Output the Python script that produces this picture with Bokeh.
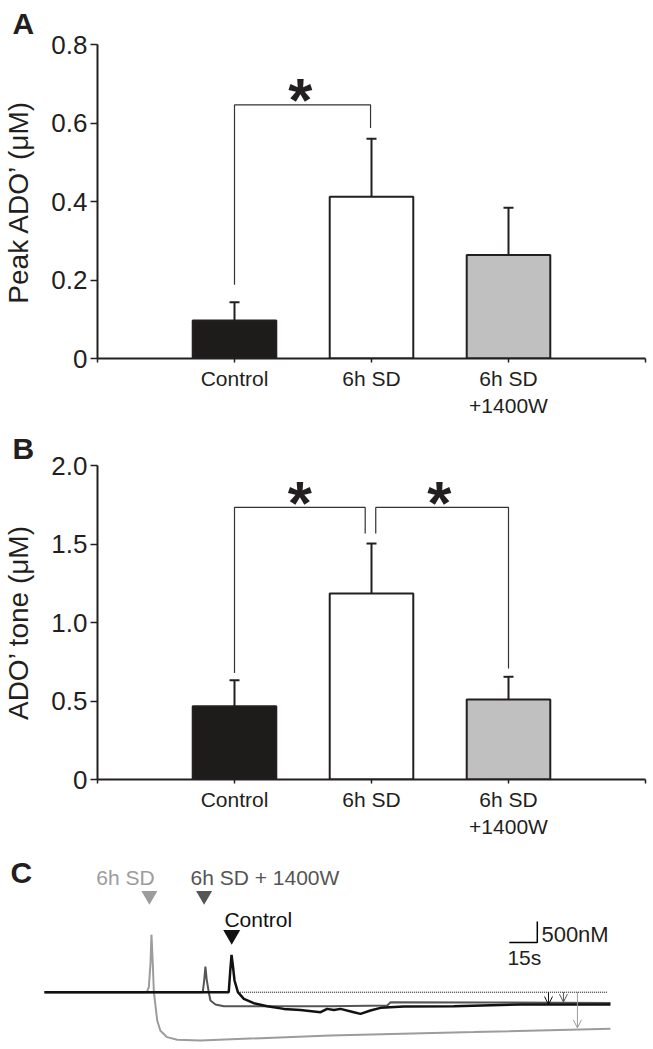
from bokeh.plotting import figure
from bokeh.layouts import column
from bokeh.models import Range1d, FixedTicker, Label, Arrow, OpenHead
from bokeh.core.properties import value
from bokeh.embed import file_html
from bokeh.resources import INLINE

FONT = "Liberation Sans"
INK = "#231f20"

# ---------------- data ----------------
categories = ["Control", "6h SD", "6h SD\n+1400W"]
bar_fill = ["#1e1c1a", "#ffffff", "#c0c0c0"]

# Panel A: peak ADO'
peak_mean = [0.097, 0.412, 0.264]
peak_sem = [0.046, 0.148, 0.120]
peak_ticks = [0, 0.2, 0.4, 0.6, 0.8]
peak_tick_labels = ["0", "0.2", "0.4", "0.6", "0.8"]

# Panel B: ADO' tone
tone_mean = [0.467, 1.184, 0.510]
tone_sem = [0.165, 0.319, 0.144]
tone_ticks = [0, 0.5, 1.0, 1.5, 2.0]
tone_tick_labels = ["0", "0.5", "1.0", "1.5", "2.0"]

# significance brackets (x left, x right, top, left leg end, right leg end)
peak_br_x0 = [1.0]
peak_br_x1 = [1.993]
peak_br_top = [0.646]
peak_br_y0 = [0.188]
peak_br_y1 = [0.587]
peak_star_x = [1.48]
peak_star_y = [0.66]

tone_br_x0 = [1.0, 2.031]
tone_br_x1 = [1.954, 3.0]
tone_br_top = [1.733, 1.733]
tone_br_y0 = [0.679, 1.567]
tone_br_y1 = [1.567, 0.707]
tone_star_x = [1.476, 2.495]
tone_star_y = [1.766, 1.766]

# Panel C: traces (time in s, concentration in nM)
sd_t = [0, 54.8, 55.9, 56.8, 57.3, 57.9, 58.6, 60.4, 62.1, 65.7, 71.1, 83.6, 153.2, 230, 303.2]
sd_c = [0, 0, 120, 700, 1370, 800, 0, -680, -920, -1070, -1130, -1150, -1030, -950, -870]

w_t = [0, 84.8, 85.6, 86.2, 86.9, 88.0, 88.9, 91.6, 96.1, 153.2, 183.6, 185.4, 240, 303.2]
w_c = [0, 0, 300, 612, 300, 0, -198, -293, -333, -333, -317, -238, -245, -255]

ctl_t = [0, 98.7, 99.5, 100.2, 101.0, 101.8, 103.6, 106.8, 112.1, 119.3, 128.2, 137.1, 147.9,
         151.4, 155.0, 158.6, 165.7, 169.3, 174.6, 180.0, 192.5, 219.3, 255.0, 303.2]
ctl_c = [0, 0, 500, 890, 600, 279, 0, -158, -261, -333, -397, -421, -476,
         -397, -421, -397, -476, -516, -436, -372, -341, -333, -293, -293]

trace_names = ["6h SD", "6h SD + 1400W", "Control"]
trace_colors = ["#9c9c9c", "#555555", "#111111"]
name_t = [43.4, 78.2, 96.4]
name_c = [2733, 2733, 1733]
name_align = ["center", "left", "left"]
marker_t = [56.2, 85.5, 100.3]
marker_c = [2300, 2300, 1364]
marker_size = [16, 16, 17]

dotted_t = [103.6, 301.4]
dotted_c = [0, 0]

arrow_t = [270.0, 278.0, 285.5]
arrow_end = [-293, -235, -850]

scale_t0, scale_c0 = 249.0, 1185.0
scale_dt, scale_dc = 15.0, 500.0


def bar_panel(letter, letter_standoff, ylabel, mean, sem, ticks, tick_labels, ymax,
              bx0, bx1, btop, by0, by1, sx, sy, height, top, bottom):
    n = len(categories)
    xs = list(range(1, n + 1))
    p = figure(width=653, height=height, x_range=Range1d(0, n + 1), y_range=Range1d(0, ymax),
               output_backend="svg", toolbar_location=None,
               min_border_left=95, min_border_right=8, min_border_top=top, min_border_bottom=bottom)
    p.outline_line_color = None
    p.grid.visible = False
    p.background_fill_color = "white"

    p.title.text = letter
    p.title.text_font = FONT
    p.title.text_font_size = "30px"
    p.title.text_font_style = "bold"
    p.title.text_color = INK
    p.title.align = "left"
    p.title.offset = -85
    p.title.standoff = letter_standoff

    # axes
    p.xaxis.ticker = FixedTicker(ticks=list(range(0, n + 2)))
    ov = {0: "", n + 1: ""}
    for i, c in enumerate(categories):
        ov[i + 1] = c
    p.xaxis.major_label_overrides = ov
    p.yaxis.ticker = FixedTicker(ticks=ticks)
    p.yaxis.major_label_overrides = {t: l for t, l in zip(ticks, tick_labels)}
    for ax in (p.xaxis[0], p.yaxis[0]):
        ax.axis_line_color = INK
        ax.axis_line_width = 2
        ax.major_tick_line_color = INK
        ax.major_tick_line_width = 1.5
        ax.minor_tick_line_color = None
        ax.major_tick_in = 0
        ax.major_label_text_font = FONT
        ax.major_label_text_color = INK
    p.xaxis.major_tick_out = 4
    p.xaxis.major_label_text_font_size = "21px"
    p.xaxis.major_label_standoff = 4
    p.yaxis.major_tick_out = 7
    p.yaxis.major_label_standoff = 3
    p.yaxis.major_label_text_font_size = "26px"
    p.yaxis.axis_label = ylabel
    p.yaxis.axis_label_text_font = FONT
    p.yaxis.axis_label_text_font_size = "28px"
    p.yaxis.axis_label_text_font_style = "normal"
    p.yaxis.axis_label_text_color = INK
    p.yaxis.axis_label_standoff = 14

    tops = [m + s for m, s in zip(mean, sem)]
    p.segment(x0=xs, y0=mean, x1=xs, y1=tops, line_color=INK, line_width=2)
    p.scatter(x=xs, y=tops, marker="dash", size=10, line_color=INK, line_width=2)
    p.vbar(x=xs, top=mean, width=0.61, fill_color=bar_fill, line_color=INK, line_width=2)

    bxs = [[a, a, b, b] for a, b in zip(bx0, bx1)]
    bys = [[l, t, t, r] for l, t, r in zip(by0, btop, by1)]
    p.multi_line(xs=bxs, ys=bys, line_color="#333333", line_width=1.2)
    p.text(x=sx, y=sy, text=["*"] * len(sx), text_font=value(FONT), text_font_style="bold",
           text_font_size="62px", text_align="center", text_baseline="middle", text_color=INK)
    return p


pA = bar_panel("A", 9, "Peak ADO\u2019 (\u03bcM)", peak_mean, peak_sem, peak_ticks,
               peak_tick_labels, 0.8, peak_br_x0, peak_br_x1, peak_br_top, peak_br_y0, peak_br_y1,
               peak_star_x, peak_star_y, height=424, top=43, bottom=66)
pB = bar_panel("B", 1, "ADO\u2019 tone (\u03bcM)", tone_mean, tone_sem, tone_ticks,
               tone_tick_labels, 2.0, tone_br_x0, tone_br_x1, tone_br_top, tone_br_y0, tone_br_y1,
               tone_star_x, tone_star_y, height=421, top=41, bottom=66)

# ---------------- panel C ----------------
pC = figure(width=653, height=204, x_range=Range1d(-23.57, 326.25), y_range=Range1d(-1364, 3493),
            output_backend="svg", toolbar_location=None, min_border=0,
            x_axis_location=None, y_axis_location=None)
pC.frame_align = False
pC.outline_line_color = None
pC.grid.visible = False

pC.line(dotted_t, dotted_c, line_color="black", line_width=1, line_dash="1 1")
pC.line(sd_t, sd_c, line_color=trace_colors[0], line_width=2)
pC.line(w_t, w_c, line_color=trace_colors[1], line_width=2)
pC.line(ctl_t, ctl_c, line_color=trace_colors[2], line_width=2.5)

for t, e, col in zip(arrow_t, arrow_end, [trace_colors[2], trace_colors[1], trace_colors[0]]):
    pC.add_layout(Arrow(end=OpenHead(size=8, line_width=1, line_color=col),
                        x_start=t, y_start=0, x_end=t, y_end=e, line_color=col, line_width=1))

pC.scatter(x=marker_t, y=marker_c, marker="inverted_triangle", size=marker_size,
           fill_color=trace_colors, line_color=None)
for nm, t, c, al, col in zip(trace_names, name_t, name_c, name_align, trace_colors):
    pC.text(x=[t], y=[c], text=[nm], text_font=value(FONT), text_font_size="21px",
            text_align=al, text_baseline="middle", text_color=col)

pC.line([scale_t0, scale_t0 + scale_dt, scale_t0 + scale_dt],
        [scale_c0, scale_c0, scale_c0 + scale_dc], line_color="black", line_width=1.5)
pC.text(x=[scale_t0 + scale_dt + 2.2], y=[scale_c0 + 190], text=["500nM"], text_font=value(FONT),
        text_font_size="22px", text_align="left", text_baseline="middle", text_color=INK)
pC.text(x=[scale_t0 - 1], y=[scale_c0 - 360], text=["15s"], text_font=value(FONT),
        text_font_size="21px", text_align="left", text_baseline="middle", text_color=INK)

pC.add_layout(Label(x=-18.2, y=2850, text="C", text_font=FONT, text_font_style="bold",
                    text_font_size="30px", text_color=INK, text_baseline="alphabetic"))

layout = column(pA, pB, pC, spacing=0)
open("out.html", "w").write(file_html(layout, INLINE))
